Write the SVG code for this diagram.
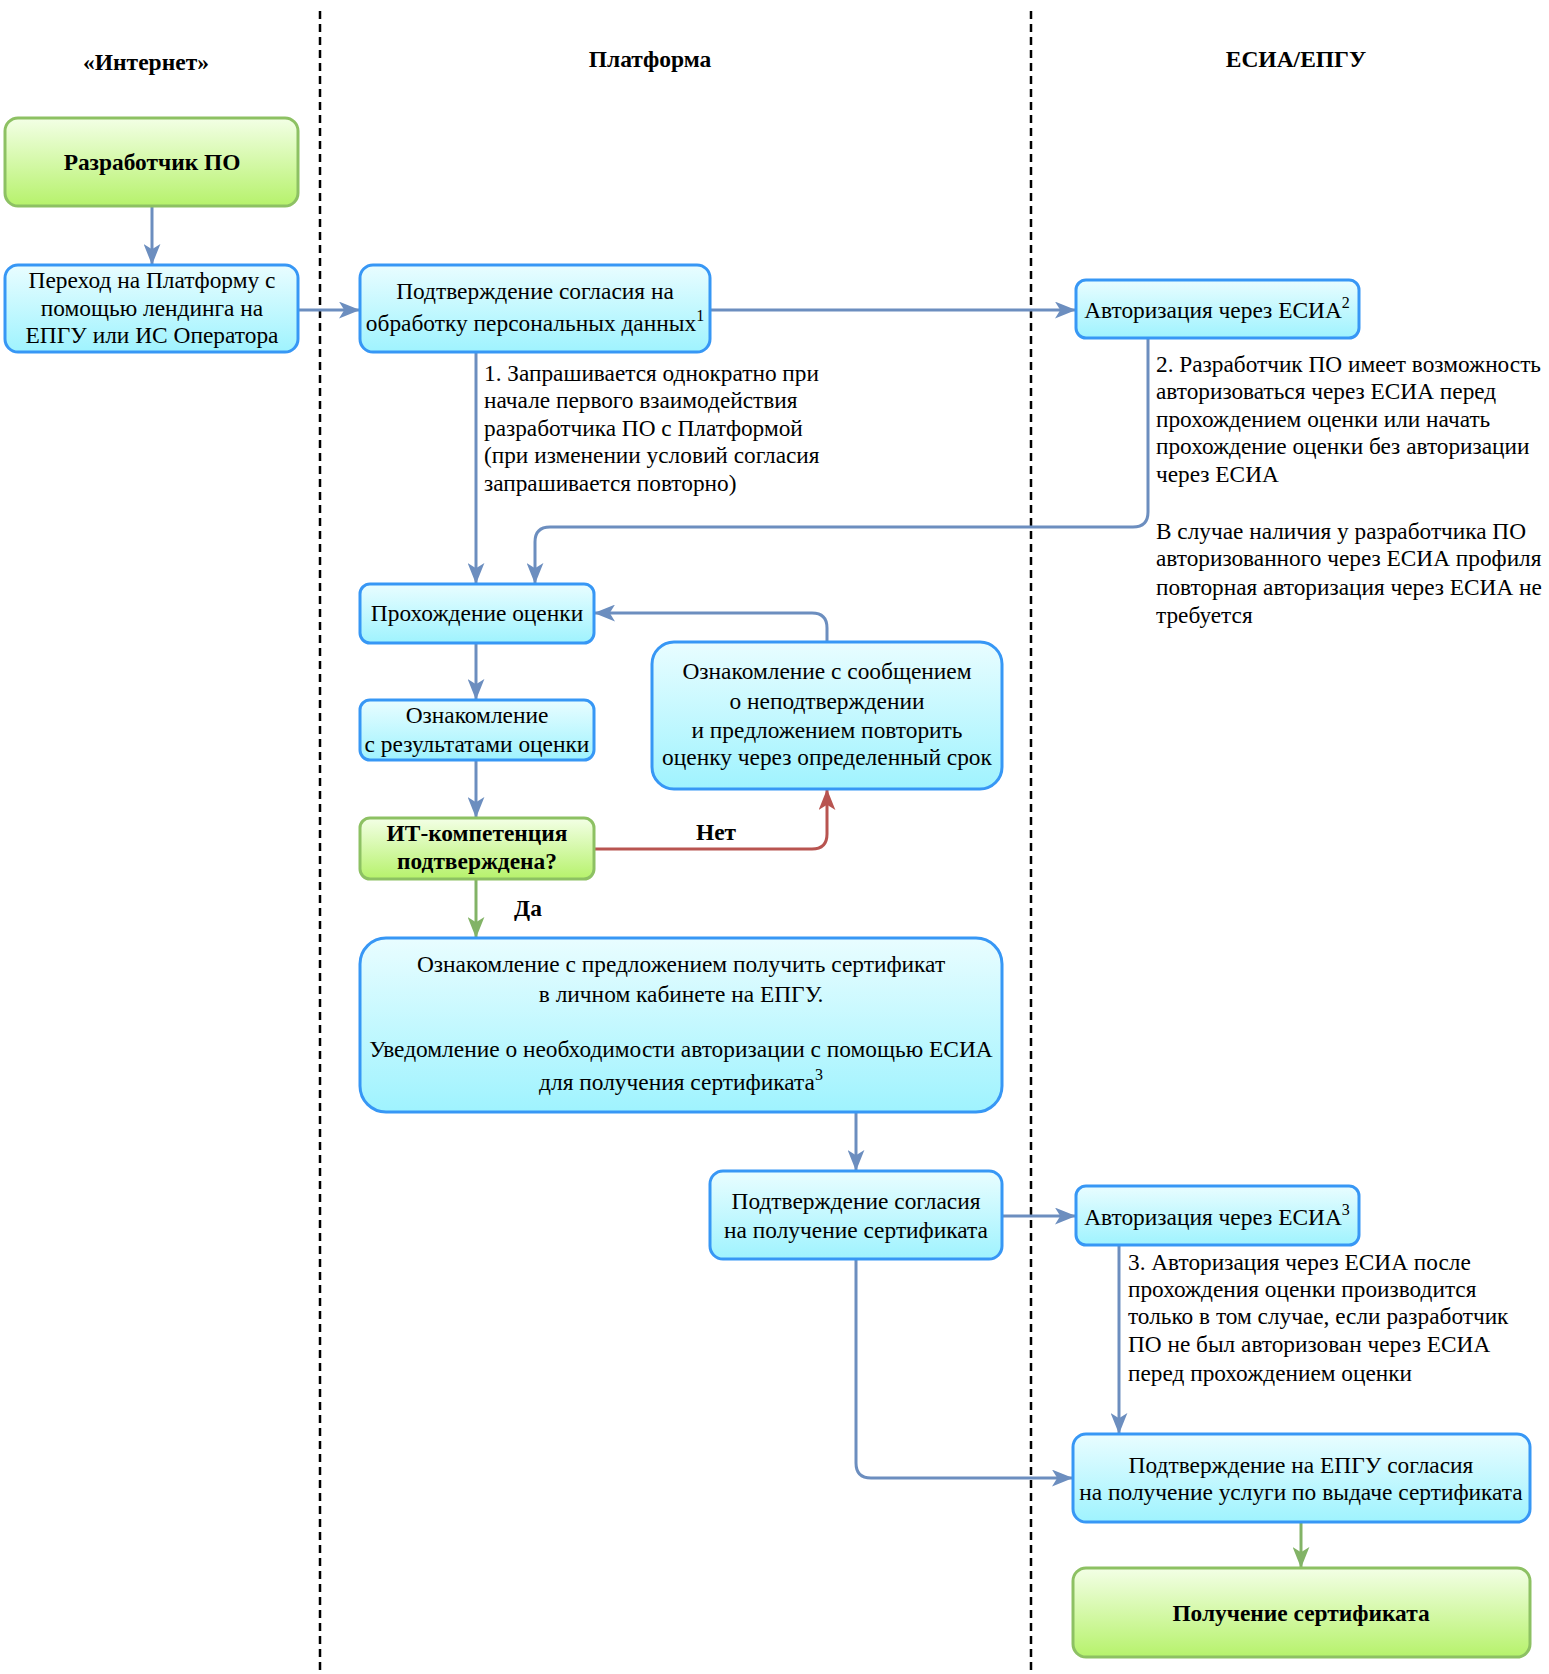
<svg xmlns="http://www.w3.org/2000/svg" width="1549" height="1674" viewBox="0 0 1549 1674">
<defs>
<linearGradient id="gBlue" x1="0" y1="0" x2="0" y2="1">
<stop offset="0" stop-color="#e9fdff"/>
<stop offset="1" stop-color="#9ff3fe"/>
</linearGradient>
<linearGradient id="gGreen" x1="0" y1="0" x2="0" y2="1">
<stop offset="0" stop-color="#f3ffe6"/>
<stop offset="1" stop-color="#b6f26b"/>
</linearGradient>
<marker id="aBlue" viewBox="0 0 20 16" refX="20" refY="8" markerWidth="21" markerHeight="17" markerUnits="userSpaceOnUse" orient="auto">
<path d="M0,0 L20,8 L0,16 L5,8 Z" fill="#6c8ebf"/>
</marker>
<marker id="aRed" viewBox="0 0 20 16" refX="20" refY="8" markerWidth="21" markerHeight="17" markerUnits="userSpaceOnUse" orient="auto">
<path d="M0,0 L20,8 L0,16 L5,8 Z" fill="#b85450"/>
</marker>
<marker id="aGreen" viewBox="0 0 20 16" refX="20" refY="8" markerWidth="21" markerHeight="17" markerUnits="userSpaceOnUse" orient="auto">
<path d="M0,0 L20,8 L0,16 L5,8 Z" fill="#82b366"/>
</marker>
</defs>
<style>
.t{font-family:"Liberation Serif","Times New Roman",serif;font-size:23.4px;fill:#000}
.n{font-family:"Liberation Serif","Times New Roman",serif;font-size:23.3px;fill:#000}
.c{text-anchor:middle}
.b{font-weight:bold}
.h{font-family:"Liberation Serif","Times New Roman",serif;font-size:23.5px;font-weight:bold;text-anchor:middle}
.blue{fill:url(#gBlue);stroke:#3797f5;stroke-width:3}
.green{fill:url(#gGreen);stroke:#8dc163;stroke-width:3}
.lane{stroke:#000;stroke-width:2.5;stroke-dasharray:8 5;fill:none}
.cb{fill:none;stroke:#6c8ebf;stroke-width:3;marker-end:url(#aBlue)}
.cr{fill:none;stroke:#b85450;stroke-width:3;marker-end:url(#aRed)}
.cg{fill:none;stroke:#82b366;stroke-width:3;marker-end:url(#aGreen)}
.sup{font-size:16px}
</style>
<rect x="0" y="0" width="1549" height="1674" fill="#ffffff"/>

<g id="lanes">
<line class="lane" x1="320" y1="11" x2="320" y2="1674"/>
<line class="lane" x1="1031" y1="11" x2="1031" y2="1674"/>
<text class="h" x="146" y="70">«Интернет»</text>
<text class="h" x="650" y="67">Платформа</text>
<text class="h" x="1296" y="67">ЕСИА/ЕПГУ</text>
</g>

<g id="connectors">
<path class="cb" d="M152,206 V265"/>
<path class="cb" d="M298,310 H360"/>
<path class="cb" d="M710,310 H1076"/>
<path class="cb" d="M476,352 V584"/>
<path class="cb" d="M1148,338 V512 Q1148,527 1133,527 H550 Q535,527 535,542 V584"/>
<path class="cb" d="M476,643 V700"/>
<path class="cb" d="M476,760 V818"/>
<path class="cr" d="M594,849 H812 Q827,849 827,834 V789"/>
<path class="cb" d="M827,642 V628 Q827,613 812,613 H594"/>
<path class="cg" d="M476,879 V938"/>
<path class="cb" d="M856,1112 V1171"/>
<path class="cb" d="M1002,1216 H1076"/>
<path class="cb" d="M1119,1245 V1434"/>
<path class="cb" d="M856,1259 V1463 Q856,1478 871,1478 H1073"/>
<path class="cg" d="M1301,1522 V1568"/>
<text class="t b c" x="716" y="840">Нет</text>
<text class="t b c" x="528" y="916">Да</text>
</g>

<g id="note1">
<text class="n" x="484" y="381">1. Запрашивается однократно при</text>
<text class="n" x="484" y="408">начале первого взаимодействия</text>
<text class="n" x="484" y="436">разработчика ПО с Платформой</text>
<text class="n" x="484" y="463">(при изменении условий согласия</text>
<text class="n" x="484" y="491">запрашивается повторно)</text>
</g>

<g id="note2">
<text class="n" x="1156" y="372">2. Разработчик ПО имеет возможность</text>
<text class="n" x="1156" y="399">авторизоваться через ЕСИА перед</text>
<text class="n" x="1156" y="427">прохождением оценки или начать</text>
<text class="n" x="1156" y="454">прохождение оценки без авторизации</text>
<text class="n" x="1156" y="482">через ЕСИА</text>
<text class="n" x="1156" y="539">В случае наличия у разработчика ПО</text>
<text class="n" x="1156" y="566">авторизованного через ЕСИА профиля</text>
<text class="n" x="1156" y="595">повторная авторизация через ЕСИА не</text>
<text class="n" x="1156" y="623">требуется</text>
</g>

<g id="note3">
<text class="n" x="1128" y="1270">3. Авторизация через ЕСИА после</text>
<text class="n" x="1128" y="1297">прохождения оценки производится</text>
<text class="n" x="1128" y="1324">только в том случае, если разработчик</text>
<text class="n" x="1128" y="1352">ПО не был авторизован через ЕСИА</text>
<text class="n" x="1128" y="1381">перед прохождением оценки</text>
</g>

<g id="n1">
<rect class="green" x="5" y="118" width="293" height="88" rx="13"/>
<text class="t b c" x="152" y="170">Разработчик ПО</text>
</g>
<g id="n2">
<rect class="blue" x="5" y="265" width="293" height="87" rx="13"/>
<text class="t c" x="152" y="288">Переход на Платформу с</text>
<text class="t c" x="152" y="316">помощью лендинга на</text>
<text class="t c" x="152" y="343">ЕПГУ или ИС Оператора</text>
</g>
<g id="n3">
<rect class="blue" x="360" y="265" width="350" height="87" rx="13"/>
<text class="t c" x="535" y="299">Подтверждение согласия на</text>
<text class="t c" x="535" y="331">обработку персональных данных<tspan class="sup" dy="-10">1</tspan></text>
</g>
<g id="n4">
<rect class="blue" x="1076" y="280" width="283" height="58" rx="10"/>
<text class="t c" x="1217" y="318">Авторизация через ЕСИА<tspan class="sup" dy="-10">2</tspan></text>
</g>
<g id="n5">
<rect class="blue" x="360" y="584" width="234" height="59" rx="10"/>
<text class="t c" x="477" y="621">Прохождение оценки</text>
</g>
<g id="n6">
<rect class="blue" x="360" y="700" width="234" height="60" rx="10"/>
<text class="t c" x="477" y="723">Ознакомление</text>
<text class="t c" x="477" y="752">с результатами оценки</text>
</g>
<g id="n7">
<rect class="green" x="360" y="818" width="234" height="61" rx="10"/>
<text class="t b c" x="477" y="841">ИТ-компетенция</text>
<text class="t b c" x="477" y="869">подтверждена?</text>
</g>
<g id="n8">
<rect class="blue" x="652" y="642" width="350" height="147" rx="22"/>
<text class="t c" x="827" y="679">Ознакомление с сообщением</text>
<text class="t c" x="827" y="709">о неподтверждении</text>
<text class="t c" x="827" y="738">и предложением повторить</text>
<text class="t c" x="827" y="765">оценку через определенный срок</text>
</g>
<g id="n9">
<rect class="blue" x="360" y="938" width="642" height="174" rx="26"/>
<text class="t c" x="681" y="972">Ознакомление с предложением получить сертификат</text>
<text class="t c" x="681" y="1002">в личном кабинете на ЕПГУ.</text>
<text class="t c" x="681" y="1057">Уведомление о необходимости авторизации с помощью ЕСИА</text>
<text class="t c" x="681" y="1090">для получения сертификата<tspan class="sup" dy="-10">3</tspan></text>
</g>
<g id="n10">
<rect class="blue" x="710" y="1171" width="292" height="88" rx="13"/>
<text class="t c" x="856" y="1209">Подтверждение согласия</text>
<text class="t c" x="856" y="1238">на получение сертификата</text>
</g>
<g id="n11">
<rect class="blue" x="1076" y="1186" width="283" height="59" rx="10"/>
<text class="t c" x="1217" y="1225">Авторизация через ЕСИА<tspan class="sup" dy="-10">3</tspan></text>
</g>
<g id="n12">
<rect class="blue" x="1073" y="1434" width="457" height="88" rx="13"/>
<text class="t c" x="1301" y="1473">Подтверждение на ЕПГУ согласия</text>
<text class="t c" x="1301" y="1500">на получение услуги по выдаче сертификата</text>
</g>
<g id="n13">
<rect class="green" x="1073" y="1568" width="457" height="89" rx="13"/>
<text class="t b c" x="1301" y="1621">Получение сертификата</text>
</g>
</svg>
